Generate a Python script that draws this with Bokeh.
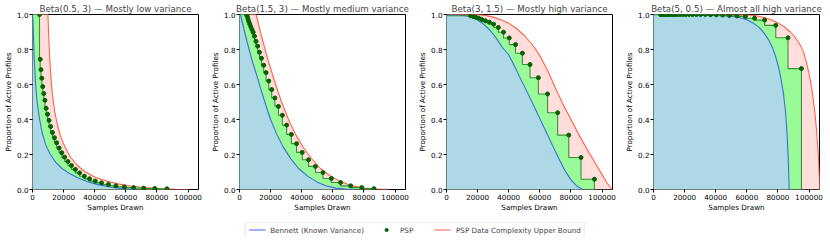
from bokeh.plotting import figure
from bokeh.layouts import row, column
from bokeh.models import (Range1d, FixedTicker, NumeralTickFormatter,
                          PrintfTickFormatter, Legend, LegendItem)
from bokeh.embed import file_html
from bokeh.resources import INLINE

# ---------------- data ----------------
titles = [
    "Beta(0.5, 3) \u2014 Mostly low variance",
    "Beta(1.5, 3) \u2014 Mostly medium variance",
    "Beta(3, 1.5) \u2014 Mostly high variance",
    "Beta(5, 0.5) \u2014 Almost all high variance",
]
x_label = "Samples Drawn"
y_label = "Proportion of Active Profiles"
legend_labels = ["Bennett (Known Variance)", "PSP",
                 "PSP Data Complexity Upper Bound"]
x_ticks = [0, 20000, 40000, 60000, 80000, 100000]
y_ticks = [0.0, 0.2, 0.4, 0.6, 0.8, 1.0]
x_max = 106700

# PSP checkpoints (samples drawn)
psp_samples = [4504, 4955, 5450, 5995, 6594, 7254, 7979, 8777, 9655, 10620,
               11680, 12850, 14135, 15550, 17105, 18815, 20695, 22765, 25040,
               27545, 30300, 33330, 36665, 40330, 44365, 48800, 53680, 59050,
               64955, 71450, 78595, 86455, 95100]

# ---- Beta(0.5, 3)
psp_start_1 = 0
psp_1 = [1.0, 0.744, 0.685, 0.636, 0.588, 0.548, 0.51, 0.464, 0.43, 0.395,
         0.36, 0.326, 0.296, 0.267, 0.237, 0.21, 0.185, 0.16, 0.137, 0.115,
         0.095, 0.076, 0.061, 0.048, 0.038, 0.029, 0.021, 0.015, 0.011, 0.008,
         0.006, 0.004]
bennett_x_1 = [0, 300, 1000, 2000, 3000, 4500, 6300, 8500, 11500, 15000,
               19000, 23500, 29000, 35000, 42000, 50000, 58000, 66000]
bennett_y_1 = [1.0, 0.97, 0.77, 0.60, 0.50, 0.405, 0.32, 0.255, 0.20, 0.155,
               0.12, 0.093, 0.067, 0.046, 0.028, 0.014, 0.005, 0.0]
bound_x_1 = [0, 9900, 10500, 11200, 12000, 13000, 14400, 16000, 18000, 20500,
             24000, 28500, 34000, 40000, 47000, 55000, 63000, 72000, 82000,
             92000, 100000]
bound_y_1 = [1.0, 1.0, 0.86, 0.73, 0.62, 0.53, 0.44, 0.37, 0.305, 0.25,
             0.19, 0.14, 0.10, 0.072, 0.05, 0.032, 0.02, 0.011, 0.005,
             0.001, 0.0]

# ---- Beta(1.5, 3)
psp_start_2 = 0
psp_2 = [1.0, 0.99, 0.975, 0.96, 0.945, 0.93, 0.915, 0.899, 0.876, 0.847,
         0.819, 0.784, 0.75, 0.71, 0.668, 0.62, 0.571, 0.523, 0.475, 0.424,
         0.368, 0.315, 0.262, 0.212, 0.17, 0.132, 0.097, 0.063, 0.04, 0.021,
         0.011, 0.005]
bennett_x_2 = [0, 600, 2500, 5000, 8000, 11000, 14000, 17000, 20000, 24000,
               28000, 33000, 38000, 44000, 50000, 56000, 62000, 68000, 74000]
bennett_y_2 = [1.0, 1.0, 0.93, 0.84, 0.74, 0.655, 0.565, 0.48, 0.40, 0.315,
               0.245, 0.175, 0.12, 0.075, 0.042, 0.02, 0.008, 0.002, 0.0]
bound_x_2 = [0, 10700, 14000, 18000, 22500, 27000, 31500, 36000, 41000, 46000,
             52000, 58000, 65000, 72000, 80000, 88000, 96000]
bound_y_2 = [1.0, 1.0, 0.88, 0.75, 0.62, 0.50, 0.40, 0.315, 0.24, 0.18,
             0.12, 0.08, 0.045, 0.022, 0.008, 0.002, 0.0]

# ---- Beta(3, 1.5)  (first visible checkpoint is the 14th)
psp_start_3 = 13
psp_3 = [0.993, 0.989, 0.985, 0.979, 0.971, 0.964, 0.956,
         0.945, 0.926, 0.899, 0.866, 0.828, 0.779, 0.714, 0.639, 0.546, 0.439,
         0.311, 0.183, 0.059]
bennett_x_3 = [0, 8000, 12000, 16000, 20000, 24000, 28000, 32000, 36000,
               40000, 44000, 48000, 52000, 56000, 60000, 64000, 68000, 72000,
               76000, 80000, 84000, 87500]
bennett_y_3 = [0.998, 0.997, 0.993, 0.985, 0.968, 0.944, 0.91, 0.865, 0.81,
               0.77, 0.70, 0.625, 0.555, 0.48, 0.405, 0.33, 0.255, 0.18,
               0.11, 0.055, 0.018, 0.0]
bound_x_3 = [0, 20000, 25000, 30000, 35000, 40000, 45000, 50000, 55000, 60000,
             65000, 70000, 75000, 80000, 85000, 90000, 95000, 100000, 103000,
             105500, 106500]
bound_y_3 = [1.0, 1.0, 0.995, 0.985, 0.97, 0.95, 0.92, 0.88, 0.83, 0.765,
             0.68, 0.58, 0.485, 0.40, 0.315, 0.235, 0.16, 0.085, 0.04,
             0.01, 0.0]

# ---- Beta(5, 0.5)
psp_start_4 = 0
psp_4 = [1.0, 1.0, 1.0, 1.0, 1.0, 1.0, 1.0, 1.0, 1.0, 1.0,
         1.0, 1.0, 1.0, 1.0, 1.0, 1.0, 1.0, 1.0, 1.0, 1.0,
         1.0, 1.0, 0.999, 0.998, 0.997, 0.995, 0.992, 0.989, 0.979, 0.968,
         0.938, 0.867, 0.691]
bennett_x_4 = [0, 20000, 40000, 50000, 55000, 60000, 64000, 68000, 71000,
               74000, 76500, 78500, 80500, 82000, 83500, 84800, 85800, 86500,
               86900, 87200]
bennett_y_4 = [0.999, 0.999, 0.995, 0.99, 0.983, 0.97, 0.952, 0.925, 0.895,
               0.855, 0.81, 0.76, 0.695, 0.63, 0.55, 0.45, 0.33, 0.2,
               0.1, 0.0]
bound_x_4 = [0, 60000, 66000, 71000, 76000, 80000, 84000, 88000, 91000, 94000,
             96500, 98500, 100500, 102000, 103500, 104800, 105800, 106500,
             107000]
bound_y_4 = [1.0, 0.998, 0.993, 0.983, 0.968, 0.952, 0.93, 0.9, 0.87, 0.83,
             0.785, 0.72, 0.64, 0.56, 0.46, 0.34, 0.22, 0.1, 0.0]

panels = [
    (titles[0], bennett_x_1, bennett_y_1, bound_x_1, bound_y_1, psp_start_1, psp_1),
    (titles[1], bennett_x_2, bennett_y_2, bound_x_2, bound_y_2, psp_start_2, psp_2),
    (titles[2], bennett_x_3, bennett_y_3, bound_x_3, bound_y_3, psp_start_3, psp_3),
    (titles[3], bennett_x_4, bennett_y_4, bound_x_4, bound_y_4, psp_start_4, psp_4),
]

# ---------------- styles ----------------
FONT = "DejaVu Sans"
BLUE = "#4169e1"
RED = "#ff6347"
PINK = "#ffdedb"
GREEN_FILL = "#98fb98"
BLUE_FILL = "#add8e6"
STEP_GREEN = "#3a8f3a"
DOT_GREEN = "#006400"

FRAME_W, FRAME_H = 166, 175
LEFT, RIGHT = 32, 9

figs = []
for i, (title, bx, by, ux, uy, start, psp) in enumerate(panels):
    last = i == len(panels) - 1
    p = figure(frame_width=FRAME_W, frame_height=FRAME_H,
               x_range=Range1d(0, x_max), y_range=Range1d(0, 1),
               output_backend="svg", toolbar_location=None,
               min_border_left=LEFT, min_border_right=(RIGHT + 1 if last else RIGHT),
               min_border_top=0, min_border_bottom=33, title=title,
               background_fill_color="white", border_fill_color="white")
    p.title.text_font = FONT
    p.title.text_font_size = "8.7px"
    p.title.text_font_style = "normal"
    p.title.align = "center"
    p.title.standoff = 2
    p.outline_line_color = "black"
    p.outline_line_width = 1
    p.xgrid.visible = False
    p.ygrid.visible = False

    samples = psp_samples[start:start + len(psp)]
    step_x = [0] + samples + [samples[-1]]
    step_y = [1.0] + psp + [0.0]

    p.varea(x=ux, y1=0, y2=uy, fill_color=PINK)
    p.varea_step(x=step_x, y1=0, y2=step_y, step_mode="before",
                 fill_color=GREEN_FILL)
    p.varea(x=bx, y1=0, y2=by, fill_color=BLUE_FILL)
    p.line(ux, uy, line_color=RED, line_width=1.1)
    p.line(bx, by, line_color=BLUE, line_width=1.1)
    p.step(step_x, step_y, mode="before", line_color=STEP_GREEN,
           line_width=1.1)
    p.scatter(samples, psp, size=4, marker="circle",
              fill_color=DOT_GREEN, line_color=DOT_GREEN)

    p.xaxis.ticker = FixedTicker(ticks=x_ticks)
    p.yaxis.ticker = FixedTicker(ticks=y_ticks)
    p.xaxis.formatter = NumeralTickFormatter(format="0")
    p.yaxis.formatter = PrintfTickFormatter(format="%.1f")
    p.xaxis.axis_label = x_label
    p.yaxis.axis_label = y_label
    for ax in (p.xaxis, p.yaxis):
        ax.axis_line_color = None
        ax.major_tick_in = 0
        ax.major_tick_out = 3
        ax.major_tick_line_color = "black"
        ax.minor_tick_line_color = None
        ax.major_label_text_font = FONT
        ax.major_label_text_font_size = "7.2px"
        ax.major_label_text_color = "black"
        ax.axis_label_text_font = FONT
        ax.axis_label_text_font_size = "7.2px"
        ax.axis_label_text_font_style = "normal"
        ax.axis_label_text_color = "black"
        ax.major_label_standoff = 1
    p.xaxis.axis_label_standoff = 0
    p.yaxis.axis_label_standoff = 1
    figs.append(p)

total_w = 3 * (LEFT + FRAME_W + RIGHT) + (LEFT + FRAME_W + RIGHT + 1)

# legend strip: renderers reuse the panel-1 data but the visible range
# lies far away from it, so only the legend swatches are shown
leg = figure(width=total_w, height=15, toolbar_location=None,
             output_backend="svg", min_border=0, x_axis_type=None,
             y_axis_type=None, x_range=Range1d(-3e5, -2e5),
             y_range=Range1d(-3, -2), outline_line_color=None)
r_b = leg.line(bennett_x_1, bennett_y_1, line_color=BLUE, line_width=1.1)
r_p = leg.scatter(psp_samples[:len(psp_1)], psp_1, size=4, marker="circle",
                  fill_color=DOT_GREEN, line_color=DOT_GREEN)
r_u = leg.line(bound_x_1, bound_y_1, line_color=RED, line_width=1.1)
legend = Legend(items=[LegendItem(label=legend_labels[0], renderers=[r_b]),
                       LegendItem(label=legend_labels[1], renderers=[r_p]),
                       LegendItem(label=legend_labels[2], renderers=[r_u])],
                orientation="horizontal", location="center",
                glyph_width=17, glyph_height=8, label_height=8,
                label_standoff=5, spacing=14, padding=3, margin=0,
                label_text_font=FONT, label_text_font_size="7.2px",
                border_line_color="#cccccc", border_line_width=1,
                background_fill_color="white")
leg.add_layout(legend, "center")

layout = column(row(*figs, spacing=0), leg, spacing=0)
open("out.html", "w").write(file_html(layout, INLINE))
